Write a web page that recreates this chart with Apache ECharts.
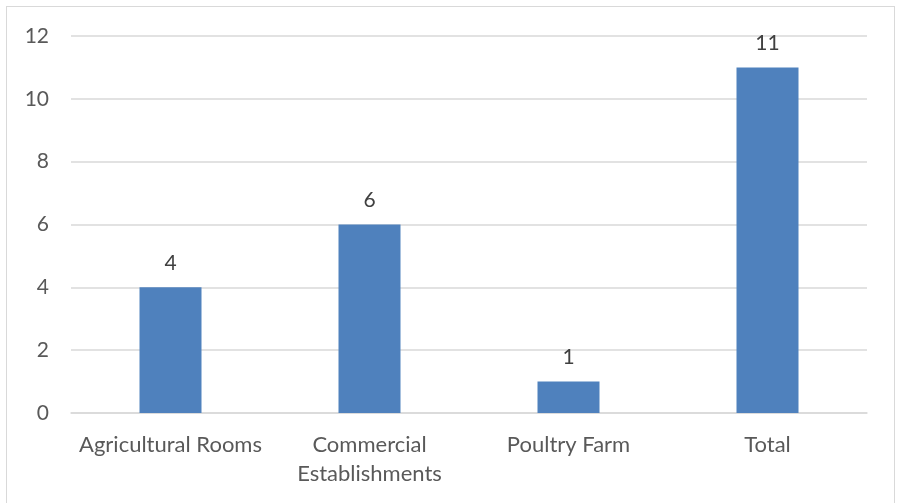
<!DOCTYPE html>
<html><head><meta charset="utf-8">
<script src="https://cdn.jsdelivr.net/npm/echarts@6/dist/echarts.min.js"></script>
<style>html,body{margin:0;padding:0;background:#fff}#frame{position:absolute;left:6px;top:6px;width:889px;height:505px;border:1px solid #d9d9d9;box-sizing:border-box}#c{position:absolute;left:0;top:0;width:902px;height:503px}</style>
</head><body><div id="frame"></div><div id="c"></div>
<script>
const categories = ["Agricultural Rooms", "Commercial\nEstablishments", "Poultry Farm", "Total"];
const values = [4, 6, 1, 11];
const yTicks = [0, 2, 4, 6, 8, 10, 12];
const font = "Lato, 'Open Sans', sans-serif";
const chart = echarts.init(document.getElementById('c'));
chart.setOption({
  animation: false,
  grid: {left: 71, right: 35, top: 36, bottom: 90, containLabel: false},
  xAxis: {type: 'category', data: categories,
    axisLine: {lineStyle: {color: '#d9d9d9', width: 1.5}}, axisTick: {show: false},
    axisLabel: {interval: 0, color: '#595959', fontSize: 22, fontFamily: font, margin: 17, lineHeight: 29}},
  yAxis: {type: 'value', min: yTicks[0], max: yTicks[yTicks.length-1], interval: 2,
    axisLine: {show: false}, axisTick: {show: false},
    splitLine: {lineStyle: {color: '#d9d9d9', width: 1.5}},
    axisLabel: {color: '#595959', fontSize: 21, fontFamily: font, margin: 22}},
  series: [{type: 'bar', data: values, barWidth: 62,
    itemStyle: {color: '#4f81bd'},
    label: {show: true, position: 'top', distance: 14, color: '#404040', fontSize: 21, fontFamily: font}}]
});
</script></body></html>
